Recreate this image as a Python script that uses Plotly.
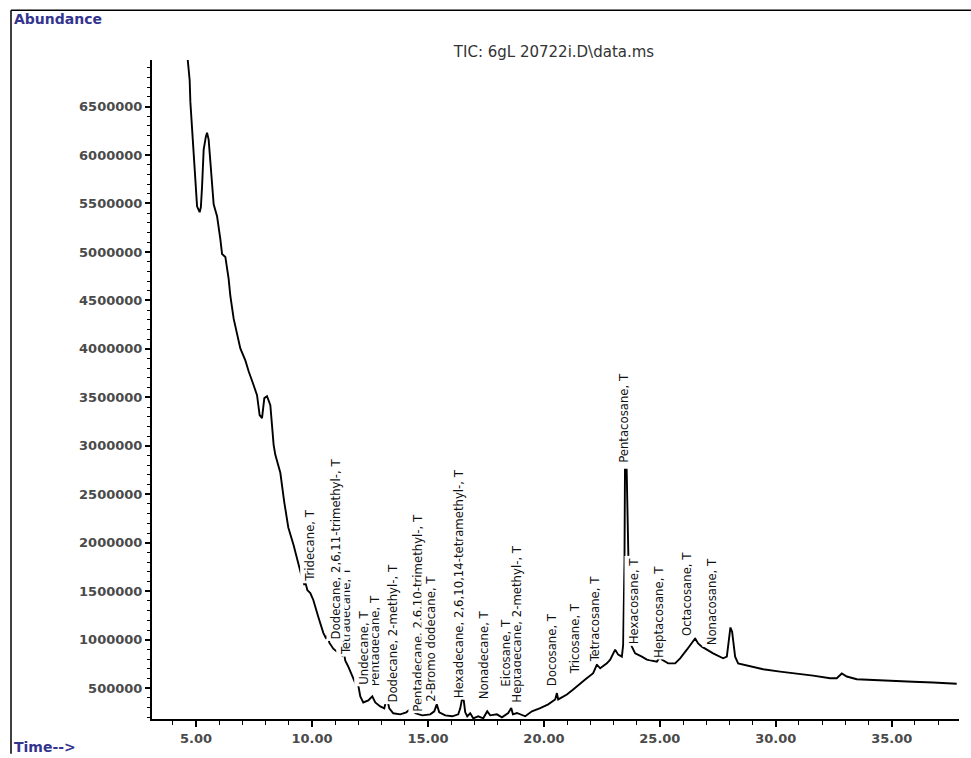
import plotly.graph_objects as go

# Total ion chromatogram: retention time (min) and abundance
rt_min = [
    4.56, 4.647, 4.724, 4.754, 4.828, 4.897, 4.970, 5.043, 5.155, 5.207,
    5.259, 5.328, 5.422, 5.474, 5.543, 5.616, 5.690, 5.759, 5.905, 5.974,
    6.047, 6.121, 6.263, 6.405, 6.478, 6.621, 6.767, 6.909, 7.125, 7.267,
    7.483, 7.629, 7.741, 7.845, 7.944, 8.060, 8.203, 8.276, 8.345, 8.418,
    8.634, 8.806, 8.978, 9.207, 9.409, 9.539, 9.603, 9.668, 9.711, 9.797,
    9.926, 10.056, 10.272, 10.487, 10.616, 10.681, 10.746, 10.918, 11.134, 11.306,
    11.371, 11.435, 11.565, 11.737, 11.909, 11.974, 12.039, 12.082, 12.211, 12.427,
    12.599, 12.728, 12.944, 13.116, 13.224, 13.332, 13.504, 13.806, 14.065, 14.280,
    14.453, 14.754, 15.099, 15.272, 15.379, 15.487, 15.746, 16.047, 16.306, 16.392,
    16.466, 16.543, 16.608, 16.694, 16.823, 16.953, 17.168, 17.384, 17.556, 17.685,
    17.974, 18.190, 18.461, 18.591, 18.664, 18.836, 19.194, 19.483, 19.841, 20.185,
    20.487, 20.560, 20.616, 20.991, 21.263, 21.565, 21.780, 22.125, 22.284, 22.427,
    22.716, 22.858, 22.987, 23.073, 23.203, 23.362, 23.418, 23.474, 23.496, 23.569,
    23.647, 23.698, 23.793, 23.935, 24.224, 24.440, 24.871, 25.013, 25.086, 25.358,
    25.659, 25.875, 26.164, 26.379, 26.522, 26.651, 26.810, 27.297, 27.728, 27.888,
    27.966, 28.043, 28.116, 28.181, 28.246, 28.375, 28.750, 29.453, 30.185, 30.905,
    31.608, 32.341, 32.629, 32.845, 33.060, 33.491, 34.496, 35.918, 36.780, 37.802,
]
abundance = [
    7184000, 6958000, 6774000, 6548000, 6240000, 5953000, 5676000, 5471000, 5410000, 5461000,
    5676000, 6056000, 6189000, 6230000, 6159000, 5922000, 5717000, 5492000, 5369000, 5266000,
    5133000, 4979000, 4948000, 4722000, 4548000, 4312000, 4138000, 4004000, 3881000, 3769000,
    3625000, 3522000, 3317000, 3286000, 3492000, 3512000, 3420000, 3215000, 3010000, 2907000,
    2722000, 2415000, 2158000, 1974000, 1769000, 1666000, 1646000, 1564000, 1594000, 1512000,
    1481000, 1410000, 1235000, 1071000, 1010000, 1051000, 969000, 907000, 866000, 835000,
    876000, 784000, 723000, 620000, 528000, 558000, 446000, 415000, 353000, 374000,
    415000, 353000, 312000, 292000, 405000, 292000, 241000, 230000, 251000, 292000,
    241000, 220000, 230000, 261000, 333000, 251000, 220000, 210000, 230000, 292000,
    384000, 374000, 251000, 210000, 241000, 189000, 210000, 189000, 261000, 220000,
    230000, 200000, 244000, 295000, 230000, 244000, 210000, 261000, 295000, 333000,
    384000, 449000, 384000, 435000, 487000, 551000, 589000, 654000, 743000, 705000,
    756000, 794000, 856000, 897000, 846000, 825000, 948000, 1799000, 2753000, 2753000,
    1799000, 979000, 928000, 859000, 825000, 794000, 774000, 825000, 794000, 756000,
    756000, 808000, 897000, 962000, 1013000, 962000, 928000, 859000, 808000, 825000,
    979000, 1126000, 1082000, 979000, 825000, 756000, 733000, 695000, 671000, 651000,
    630000, 603000, 603000, 651000, 620000, 592000, 579000, 566000, 558000, 545000,
]

# Peak identifications (drawn in this order) with their label anchor points
peak_names = [
    "Tridecane, T",
    "Tetradecane, T",
    "Dodecane, 2,6,11-trimethyl-, T",
    "Pentadecane, T",
    "Undecane, T",
    "Dodecane, 2-methyl-, T",
    "Pentadecane, 2,6,10-trimethyl-, T",
    "2-Bromo dodecane, T",
    "Hexadecane, 2,6,10,14-tetramethyl-, T",
    "Nonadecane, T",
    "Heptadecane, 2-methyl-, T",
    "Eicosane, T",
    "Docosane, T",
    "Tricosane, T",
    "Tetracosane, T",
    "Pentacosane, T",
    "Hexacosane, T",
    "Heptacosane, T",
    "Octacosane, T",
    "Nonacosane, T",
]
peak_rt = [9.88, 11.44, 11.00, 12.73, 12.21, 13.46, 14.54, 15.10, 16.35, 17.43,
           18.81, 18.33, 20.36, 21.31, 22.17, 23.46, 23.85, 24.93, 26.18, 27.21]
peak_label_y = [1574000, 825000, 979000, 497000, 517000, 333000, 240000, 343000, 374000, 364000,
                333000, 497000, 497000, 620000, 743000, 2805000, 928000, 794000, 1020000, 917000]

x_ticks = [5, 10, 15, 20, 25, 30, 35]
x_tick_text = ["5.00", "10.00", "15.00", "20.00", "25.00", "30.00", "35.00"]
y_ticks = [500000 * k for k in range(1, 14)]
y_tick_text = [str(v) for v in y_ticks]

W, H = 971, 758
L, R, T, B = 152, 12, 60, 35
plot_w, plot_h = W - L - R, H - T - B


def px_to_paper(px, py):
    return (px - L) / plot_w, (H - B - py) / plot_h


fig = go.Figure()
fig.add_trace(go.Scatter(
    x=rt_min, y=abundance, mode="lines",
    line=dict(color="black", width=1.9),
    hoverinfo="skip", showlegend=False,
))

label_font = dict(family="Liberation Sans Narrow, Arial Narrow, DejaVu Sans Condensed, sans-serif",
                  size=13, color="#111111")
annotations = []
for name, rt, yv in zip(peak_names, peak_rt, peak_label_y):
    annotations.append(dict(
        x=rt, y=yv, xref="x", yref="y", text=name, textangle=-90,
        xanchor="center", yanchor="bottom", showarrow=False,
        font=label_font, bgcolor="white", borderpad=1,
    ))

blue = "#34348f"
ax, ay = px_to_paper(12, 19)
annotations.append(dict(x=ax, y=ay, xref="paper", yref="paper", text="<b>Abundance</b>",
                        xanchor="left", yanchor="middle", showarrow=False,
                        font=dict(family="DejaVu Sans", size=14, color=blue)))
tx, ty = px_to_paper(12, 751)
annotations.append(dict(x=tx, y=ty, xref="paper", yref="paper", text="<b>Time--></b>",
                        xanchor="left", yanchor="middle", showarrow=False,
                        font=dict(family="DejaVu Sans", size=14, color=blue)))

# outer frame: top edge and left edge
fx0, fy_top = px_to_paper(11, 10)
fx1, fy_bot = px_to_paper(W, H)
shapes = [
    dict(type="line", xref="paper", yref="paper", x0=fx0, x1=fx1, y0=fy_top, y1=fy_top,
         line=dict(color="black", width=1.5)),
    dict(type="line", xref="paper", yref="paper", x0=fx0, x1=fx0, y0=fy_top, y1=fy_bot,
         line=dict(color="black", width=1.5)),
]

tick_font = dict(family="DejaVu Sans", size=13, color="#4a4a4a", weight="bold")

fig.update_layout(
    width=W, height=H,
    margin=dict(l=L, r=R, t=T, b=B, pad=0),
    paper_bgcolor="white", plot_bgcolor="white",
    title=dict(text="TIC: 6gL 20722i.D\\data.ms", x=554 / W, y=1 - 52 / H,
               xanchor="center", yanchor="middle",
               font=dict(family="DejaVu Sans", size=15, color="#333333")),
    xaxis=dict(range=[3.10, 37.90], tickvals=x_ticks, ticktext=x_tick_text,
               showgrid=False, zeroline=False, showline=True, linecolor="black", linewidth=2,
               ticks="outside", ticklen=6, tickwidth=1.5, tickcolor="black",
               tickfont=tick_font,
               minor=dict(dtick=1, tick0=0, ticks="outside", ticklen=4, tickwidth=1.2,
                          tickcolor="black", showgrid=False)),
    yaxis=dict(range=[182000, 6980000], tickvals=y_ticks, ticktext=y_tick_text,
               showgrid=False, zeroline=False, showline=True, linecolor="black", linewidth=2,
               ticks="outside", ticklen=5, tickwidth=1.5, tickcolor="black",
               tickfont=tick_font,
               minor=dict(dtick=100000, tick0=0, ticks="outside", ticklen=3, tickwidth=1,
                          tickcolor="black", showgrid=False)),
    annotations=annotations,
    shapes=shapes,
)

fig.write_html("out.html")
